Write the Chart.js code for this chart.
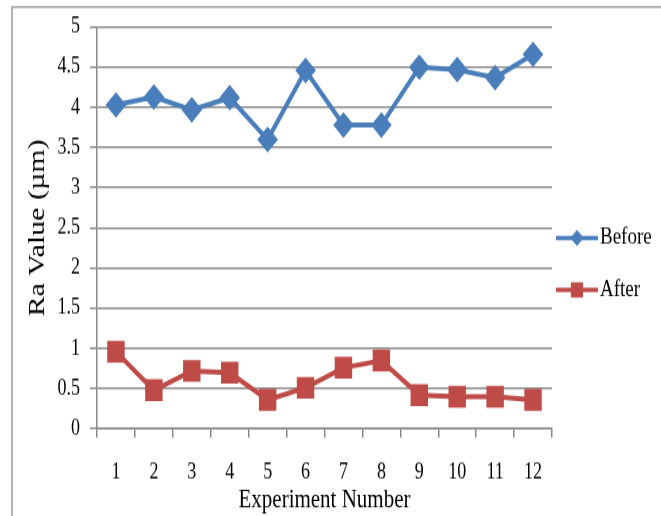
<!DOCTYPE html>
<html>
<head>
<meta charset="utf-8">
<script src="https://cdn.jsdelivr.net/npm/chart.js@4/dist/chart.umd.min.js"></script>
<style>
  html, body { margin: 0; padding: 0; background: #ffffff; }
  #c { display: block; width: 661px; height: 516px; }
</style>
</head>
<body>
<canvas id="c" width="661" height="413" style="width:661px;height:516px;"></canvas>
<script>
const categories = ['1','2','3','4','5','6','7','8','9','10','11','12'];
const beforeValues = [4.03, 4.13, 3.97, 4.12, 3.60, 4.46, 3.78, 3.78, 4.50, 4.47, 4.37, 4.66];
const afterValues  = [0.96, 0.48, 0.72, 0.70, 0.36, 0.51, 0.76, 0.85, 0.42, 0.40, 0.40, 0.36];
const yTickLabels = ['0','0.5','1','1.5','2','2.5','3','3.5','4','4.5','5'];
const seriesNames = ['Before', 'After'];
const xTitle = 'Experiment Number';
const yTitle = 'Ra Value (\u00B5m)';

const BLUE = '#4A7EBB';
const RED = '#BE4B48';
const GRID = '#8a8a8a';
const FONT = "'Liberation Serif', 'Times New Roman', serif";

const frame = {
  id: 'frame',
  beforeDraw(chart) {
    const ctx = chart.ctx;
    ctx.save();
    ctx.fillStyle = '#ffffff';
    ctx.fillRect(0, 0, chart.width, chart.height);
    ctx.strokeStyle = '#9a9a9a';
    ctx.lineWidth = 1.5;
    ctx.strokeRect(12, 5.6, 700, 500);
    ctx.restore();
  }
};

const sideLegend = {
  id: 'sideLegend',
  afterDraw(chart) {
    const ctx = chart.ctx;
    const rows = [190.4, 232];
    ctx.save();
    chart.data.datasets.forEach((ds, i) => {
      const y = rows[i];
      ctx.strokeStyle = ds.borderColor;
      ctx.lineWidth = 3.5;
      ctx.beginPath();
      ctx.moveTo(556, y);
      ctx.lineTo(598, y);
      ctx.stroke();
      ctx.fillStyle = ds.pointBackgroundColor;
      ctx.strokeStyle = ds.pointBorderColor;
      ctx.lineWidth = 1;
      Chart.helpers.drawPoint(ctx, {
        pointStyle: ds.pointStyle,
        radius: ds.legendRadius,
        borderWidth: 1
      }, 577, y);
      ctx.fillStyle = '#000000';
      ctx.font = "normal 19px " + FONT;
      ctx.textBaseline = 'middle';
      ctx.textAlign = 'left';
      ctx.fillText(ds.label, 600, y);
    });
    ctx.restore();
  }
};

new Chart(document.getElementById('c'), {
  type: 'line',
  data: {
    labels: categories,
    datasets: [
      {
        label: seriesNames[0],
        data: beforeValues,
        borderColor: BLUE,
        backgroundColor: BLUE,
        pointBackgroundColor: BLUE,
        pointBorderColor: BLUE,
        borderWidth: 4,
        pointStyle: 'rectRot',
        pointRadius: 7.5,
        legendRadius: 6,
        tension: 0
      },
      {
        label: seriesNames[1],
        data: afterValues,
        borderColor: RED,
        backgroundColor: RED,
        pointBackgroundColor: RED,
        pointBorderColor: RED,
        borderWidth: 4,
        pointStyle: 'rect',
        pointRadius: 9.5,
        legendRadius: 8,
        tension: 0
      }
    ]
  },
  options: {
    responsive: false,
    animation: false,
    devicePixelRatio: 1,
    layout: { padding: { top: 21.6, right: 109, left: 0, bottom: 0 } },
    plugins: {
      legend: { display: false },
      tooltip: { enabled: false }
    },
    scales: {
      x: {
        offset: true,
        grid: {
          offset: true,
          drawOnChartArea: false,
          drawTicks: true,
          tickLength: 7,
          color: GRID,
          lineWidth: 1.5
        },
        border: { display: true, color: GRID, width: 1.5 },
        ticks: {
          color: '#000000',
          font: { family: FONT, size: 18, weight: 'normal' },
          padding: 17,
          maxRotation: 0,
          autoSkip: false
        },
        title: {
          display: true,
          text: xTitle,
          color: '#000000',
          font: { family: FONT, size: 21, weight: 'normal' },
          padding: { top: 0, bottom: 0 }
        },
        afterFit(scale) { scale.height = 413 - 343.2; }
      },
      y: {
        min: 0,
        max: 5,
        ticks: {
          stepSize: 0.5,
          color: '#000000',
          font: { family: FONT, size: 18, weight: 'normal' },
          padding: 10,
          callback: (v, i) => yTickLabels[i]
        },
        grid: {
          color: GRID,
          lineWidth: 1.5,
          drawTicks: true,
          tickLength: 7
        },
        border: { display: true, color: GRID, width: 1.5 },
        title: {
          display: true,
          text: yTitle,
          color: '#000000',
          font: { family: FONT, size: 24, weight: 'normal' },
          padding: { top: 23, bottom: 0 }
        },
        afterFit(scale) { scale.width = 97; }
      }
    }
  },
  plugins: [frame, sideLegend]
});
</script>
</body>
</html>
